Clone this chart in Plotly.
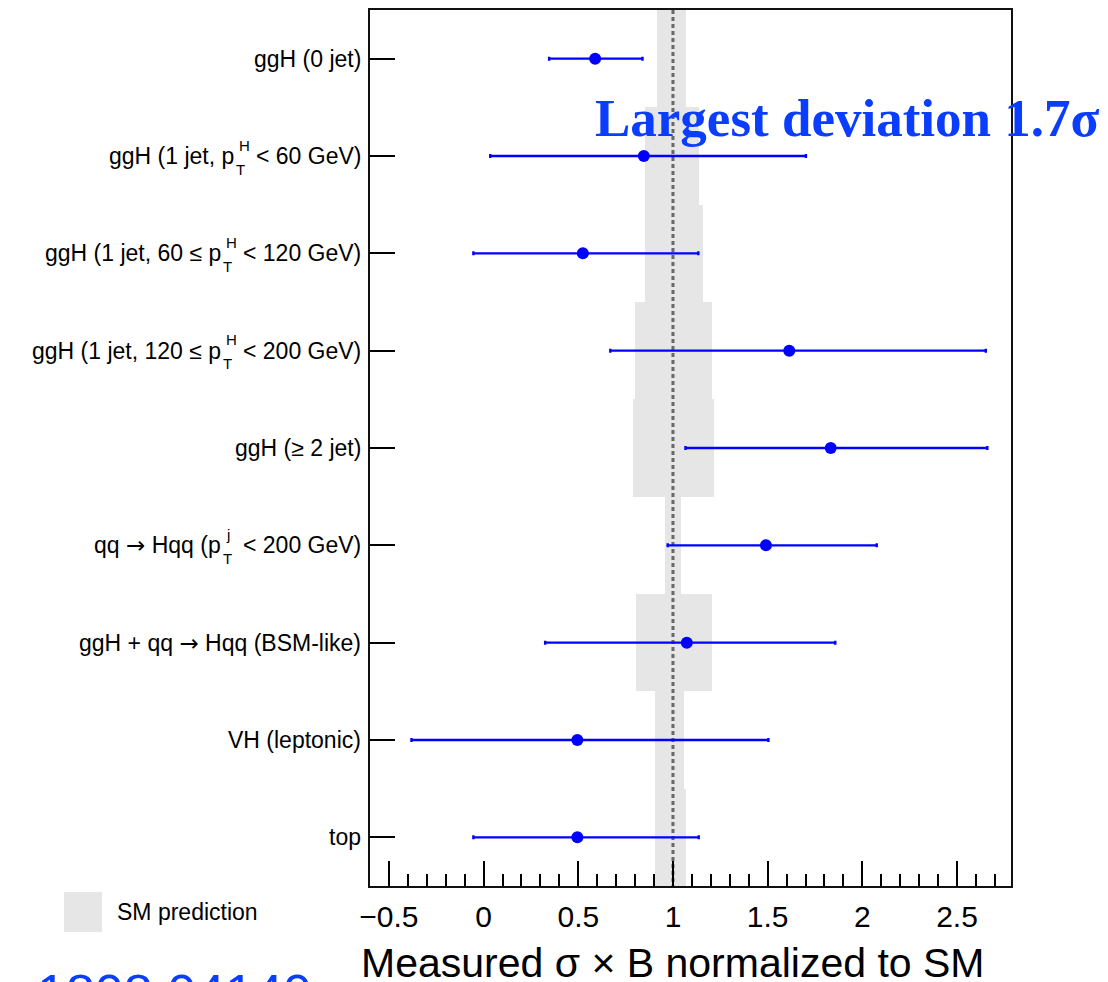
import plotly.graph_objects as go

# ---------------- data ----------------
ARROW = "<span style=\"font-family:DejaVu Sans\">\u2192</span>"
label_left = ["ggH (0 jet)", "ggH (1 jet, p", "ggH (1 jet, 60 \u2264 p", "ggH (1 jet, 120 \u2264 p",
              "ggH (\u2265 2 jet)", "qq " + ARROW + " Hqq (p", "ggH + qq " + ARROW + " Hqq (BSM-like)",
              "VH (leptonic)", "top"]
label_sup = ["", "H", "H", "H", "", "j", "", "", ""]
label_sub = ["", "T", "T", "T", "", "T", "", "", ""]
label_right = ["", "< 60 GeV)", "< 120 GeV)", "< 200 GeV)", "", "< 200 GeV)", "", "", ""]

measured = [0.589, 0.846, 0.524, 1.614, 1.833, 1.491, 1.073, 0.495, 0.495]
meas_lo = [0.346, 0.035, -0.054, 0.669, 1.066, 0.972, 0.325, -0.381, -0.054]
meas_hi = [0.839, 1.702, 1.134, 2.652, 2.660, 2.076, 1.857, 1.504, 1.136]
sm_lo = [0.918, 0.853, 0.850, 0.801, 0.790, 0.959, 0.806, 0.904, 0.904]
sm_hi = [1.068, 1.138, 1.156, 1.207, 1.218, 1.044, 1.207, 1.060, 1.071]
sm_ref = 1.0
x_ticks = [-0.5, 0, 0.5, 1, 1.5, 2, 2.5]
x_range = [-0.6, 2.785]

# ---------------- geometry ----------------
W, H = 1108, 982
L, R, T, B = 370, 1011, 8, 886
FONT = "Liberation Sans, Arial, Helvetica, sans-serif"
BLUE_TXT = "#0b3dff"


def px_x(px):
    return (px - L) / (R - L)


def px_y(py):
    return 1 - (py - T) / (B - T)


# Arial / Liberation Sans advance widths (per 1000 em)
AW = {' ': 278, '<': 584, 'G': 778, 'e': 556, 'V': 667, ')': 333}
for d in "0123456789":
    AW[d] = 556


def text_w(s, size):
    return sum(AW.get(c, 556) for c in s) * size / 1000.0


n = len(measured)
ypos = list(range(n))

fig = go.Figure()

# SM prediction bands
fig.add_trace(go.Bar(
    y=ypos, x=[h - l for l, h in zip(sm_lo, sm_hi)], base=sm_lo,
    orientation="h", width=1.0,
    marker=dict(color="#e6e6e6", line=dict(width=0)),
    showlegend=False, hoverinfo="skip"))

# SM reference dashed line
fig.add_trace(go.Scatter(
    x=[sm_ref, sm_ref], y=[-0.5, n - 0.5], mode="lines",
    line=dict(color="#686868", width=3, dash="4px,3px"),
    showlegend=False, hoverinfo="skip"))

# measurements
fig.add_trace(go.Scatter(
    x=measured, y=ypos, mode="markers",
    marker=dict(size=12, color="#0000ff"),
    error_x=dict(type="data", symmetric=False,
                 array=[h - m for m, h in zip(measured, meas_hi)],
                 arrayminus=[m - l for m, l in zip(measured, meas_lo)],
                 color="#0000ff", thickness=2.4, width=2),
    showlegend=False))

ann = []
LABEL_EDGE = 361
LSIZE = 23


def A(**kw):
    base = dict(showarrow=False, borderpad=0, borderwidth=0)
    base.update(kw)
    return base


for i in range(n):
    if not label_sup[i]:
        ann.append(A(text=label_left[i], x=px_x(LABEL_EDGE), xref="paper", y=i, yref="y",
                     xanchor="right", yanchor="middle",
                     font=dict(family=FONT, size=LSIZE, color="black")))
    else:
        wr = text_w(label_right[i], LSIZE)
        ann.append(A(text=label_right[i], x=px_x(LABEL_EDGE), xref="paper", y=i, yref="y",
                     xanchor="right", yanchor="middle",
                     font=dict(family=FONT, size=LSIZE, color="black")))
        p_end = LABEL_EDGE - wr - 22
        ann.append(A(text=label_left[i], x=px_x(p_end), xref="paper", y=i, yref="y",
                     xanchor="right", yanchor="middle",
                     font=dict(family=FONT, size=LSIZE, color="black")))
        ann.append(A(text=label_sup[i], x=px_x(p_end + 5), xref="paper", y=i, yref="y",
                     xanchor="left", yanchor="middle", yshift=11,
                     font=dict(family=FONT, size=15, color="black")))
        ann.append(A(text=label_sub[i], x=px_x(p_end + 2), xref="paper", y=i, yref="y",
                     xanchor="left", yanchor="middle", yshift=-13,
                     font=dict(family=FONT, size=15, color="black")))

# legend
ann.append(A(text="SM prediction", x=px_x(117), xref="paper", y=px_y(912), yref="paper",
             xanchor="left", yanchor="middle",
             font=dict(family=FONT, size=23, color="black")))
# x-axis title
ann.append(A(text="Measured \u03c3 \u00d7 B normalized to SM", x=px_x(985), xref="paper",
             y=px_y(963), yref="paper", xanchor="right", yanchor="middle",
             font=dict(family=FONT, size=41, color="black")))
# big blue text
ann.append(A(text="<b>Largest deviation 1.7\u03c3</b>", x=px_x(595), xref="paper",
             y=px_y(116), yref="paper", xanchor="left", yanchor="middle",
             font=dict(family="Liberation Serif, Times New Roman, serif", size=53, color=BLUE_TXT)))
ann.append(A(text="1808.04140", x=px_x(37), xref="paper",
             y=px_y(964), yref="paper", xanchor="left", yanchor="top",
             font=dict(family=FONT, size=52, color=BLUE_TXT)))

fig.update_layout(
    width=W, height=H, autosize=False,
    margin=dict(l=L, r=W - R, t=T, b=H - B, pad=0),
    paper_bgcolor="white", plot_bgcolor="white",
    bargap=0,
    annotations=ann,
    shapes=[dict(type="rect", xref="paper", yref="paper",
                 x0=px_x(64), x1=px_x(102), y0=px_y(932), y1=px_y(892),
                 fillcolor="#e6e6e6", line=dict(width=0), layer="below")],
    xaxis=dict(range=x_range, tickvals=x_ticks, ticks="inside", ticklen=25, tickwidth=1.5,
               tickcolor="black", showgrid=False, zeroline=False,
               showline=True, linecolor="#111", linewidth=2, mirror=True,
               tickfont=dict(family=FONT, size=30, color="black"), ticklabelstandoff=3,
               minor=dict(dtick=0.1, tick0=0, ticks="inside", ticklen=12, tickwidth=1.5,
                          tickcolor="black", showgrid=False)),
    yaxis=dict(range=[n - 0.5, -0.5], tickvals=ypos, ticks="inside", ticklen=25, tickwidth=2,
               tickcolor="black", showticklabels=False, showgrid=False, zeroline=False,
               showline=True, linecolor="#111", linewidth=2, mirror=True),
)

fig.write_html("out.html", config={"displayModeBar": False},
               post_script="document.body.style.margin='0';")
